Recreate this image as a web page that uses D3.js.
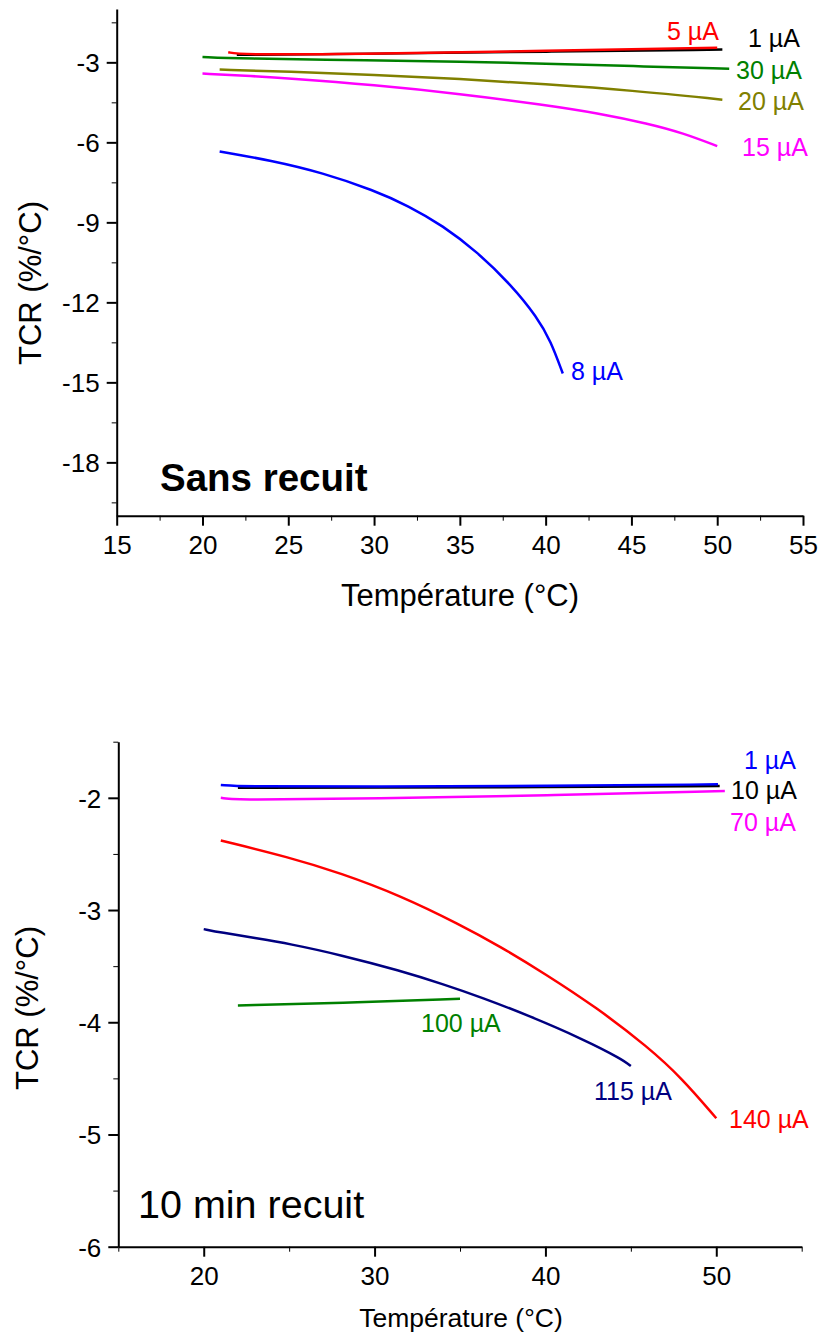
<!DOCTYPE html>
<html>
<head>
<meta charset="utf-8">
<script src="https://cdn.jsdelivr.net/npm/d3@7"></script>
<style>
  body { margin: 0; background: #fff; }
  svg text { font-family: "Liberation Sans", Arial, sans-serif; }
</style>
</head>
<body>
<div id="chart"></div>
<script>
// Sans recuit : [temperature, TCR]
const sr1uA  = [[22, -2.72], [30, -2.68], [40, -2.6], [50.3, -2.52]];
const sr5uA  = [[21.5, -2.62], [22.2, -2.72], [30, -2.68], [40, -2.57], [50, -2.45]];
const sr30uA = [[20, -2.8], [22, -2.86], [30, -2.92], [35, -2.97], [40, -3.05], [45, -3.14], [50.7, -3.24]];
const sr20uA = [[21, -3.27], [25, -3.35], [30, -3.47], [35, -3.62], [40, -3.82], [45, -4.05], [50.3, -4.4]];
const sr15uA = [[20, -3.42], [22.5, -3.5], [25, -3.6], [30, -3.85], [35, -4.18], [40, -4.6], [43, -4.9], [46, -5.3], [48, -5.65], [50, -6.14]];
const sr8uA  = [[21, -6.34], [24, -6.68], [27, -7.14], [30, -7.8], [32, -8.38], [34, -9.12], [36, -10.1], [38, -11.35], [39.5, -12.55], [40.3, -13.45], [41, -14.67]];

// 10 min recuit
const r1uA   = [[21, -1.885], [22.3, -1.9], [30, -1.9], [40, -1.895], [50.1, -1.88]];
const r10uA  = [[22, -1.91], [30, -1.91], [40, -1.905], [50.2, -1.895]];
const r70uA  = [[21, -2.0], [22, -2.02], [30, -2.005], [40, -1.98], [50.5, -1.94]];
const r140uA = [[21, -2.38], [25, -2.53], [28, -2.67], [31.5, -2.87], [35, -3.13], [37.3, -3.32], [40, -3.57], [43, -3.87], [46, -4.22], [48, -4.5], [50, -4.855]];
const r115uA = [[20, -3.17], [21, -3.2], [23, -3.25], [25, -3.3], [28, -3.4], [31.5, -3.54], [34, -3.66], [36.3, -3.78], [39, -3.94], [42.2, -4.15], [44.5, -4.33], [45, -4.39]];
const r100uA = [[22, -3.85], [28, -3.83], [35, -3.79]];

// ticks
const topXMajor = [15, 20, 25, 30, 35, 40, 45, 50, 55];
const topXMinor = [17.5, 22.5, 27.5, 32.5, 37.5, 42.5, 47.5, 52.5];
const topYMajor = [-18, -15, -12, -9, -6, -3];
const topYMinor = [-19.5, -16.5, -13.5, -10.5, -7.5, -4.5, -1.5];
const botXMajor = [20, 30, 40, 50];
const botXMinor = [15, 25, 35, 45, 55];
const botYMajor = [-6, -5, -4, -3, -2];
const botYMinor = [-5.5, -4.5, -3.5, -2.5, -1.5];

const width = 821, height = 1337;
const svg = d3.select('#chart').append('svg')
  .attr('width', width)
  .attr('height', height);

function drawPanel(p) {
  const x = d3.scaleLinear().domain(p.xDomain).range([p.left, p.right]);
  const y = d3.scaleLinear().domain(p.yDomain).range([p.bottom, p.top]);
  const g = svg.append('g');

  // minor ticks
  g.append('g')
    .attr('transform', `translate(0,${p.bottom})`)
    .call(d3.axisBottom(x).tickValues(p.xMinor).tickSize(5).tickFormat('').tickSizeOuter(0))
    .call(a => a.select('.domain').remove());
  g.append('g')
    .attr('transform', `translate(${p.left},0)`)
    .call(d3.axisLeft(y).tickValues(p.yMinor).tickSize(5).tickFormat('').tickSizeOuter(0))
    .call(a => a.select('.domain').remove());

  // major ticks + axis line
  const xa = g.append('g')
    .attr('transform', `translate(0,${p.bottom})`)
    .call(d3.axisBottom(x).tickValues(p.xMajor).tickSize(10).tickPadding(10).tickSizeOuter(0));
  const ya = g.append('g')
    .attr('transform', `translate(${p.left},0)`)
    .call(d3.axisLeft(y).tickValues(p.yMajor).tickSize(10).tickPadding(7).tickSizeOuter(0)
      .tickFormat(d => String(d).replace('\u2212', '-')));

  [xa, ya].forEach(a => {
    a.selectAll('path, line').attr('stroke', '#000').attr('stroke-width', 2);
    a.selectAll('text').attr('font-size', 26).attr('fill', '#000')
      .attr('font-family', '"Liberation Sans", Arial, sans-serif');
  });
  ya.selectAll('text').attr('dy', '0.36em');

  // smooth curves through the read-off points
  const line = d3.line()
    .x(d => x(d[0]))
    .y(d => y(d[1]))
    .curve(d3.curveBasis);

  p.series.forEach(s => {
    g.append('path')
      .datum(s.data)
      .attr('fill', 'none')
      .attr('stroke', s.color)
      .attr('stroke-width', 2.5)
      .attr('d', line);
  });

  p.labels.forEach(l => {
    g.append('text')
      .attr('x', l.x)
      .attr('y', l.y)
      .attr('font-size', 25)
      .attr('fill', l.color)
      .text(l.text);
  });

  g.append('text')
    .attr('x', p.xTitleX)
    .attr('y', p.xTitleY)
    .attr('text-anchor', 'middle')
    .attr('font-size', p.xTitleSize)
    .text('Température (°C)');

  g.append('text')
    .attr('transform', `translate(${p.yTitleX},${p.yTitleC}) rotate(-90)`)
    .attr('text-anchor', 'middle')
    .attr('font-size', 31)
    .text('TCR (%/°C)');

  g.append('text')
    .attr('x', p.note.x)
    .attr('y', p.note.y)
    .attr('font-size', p.note.size)
    .attr('font-weight', p.note.bold ? 'bold' : 'normal')
    .text(p.note.text);
}

drawPanel({
  xDomain: [15, 55], yDomain: [-20, -1],
  left: 116.7, right: 803, top: 9, bottom: 515.7,
  xMajor: topXMajor, xMinor: topXMinor, yMajor: topYMajor, yMinor: topYMinor,
  xTitleX: 460, xTitleY: 606, xTitleSize: 31, yTitleX: 41, yTitleC: 283,
  series: [
    { data: sr30uA, color: '#008000' },
    { data: sr20uA, color: '#808000' },
    { data: sr15uA, color: '#FF00FF' },
    { data: sr8uA, color: '#0000FF' },
    { data: sr1uA, color: '#000000' },
    { data: sr5uA, color: '#FF0000' }
  ],
  labels: [
    { text: '5 µA', x: 667, y: 40, color: '#FF0000' },
    { text: '1 µA', x: 748, y: 47, color: '#000000' },
    { text: '30 µA', x: 736, y: 79, color: '#008000' },
    { text: '20 µA', x: 738, y: 110, color: '#808000' },
    { text: '15 µA', x: 742, y: 156, color: '#FF00FF' },
    { text: '8 µA', x: 571, y: 380, color: '#0000FF' }
  ],
  note: { text: 'Sans recuit', x: 160, y: 491, bold: true, size: 38.5 }
});

drawPanel({
  xDomain: [15, 55], yDomain: [-6, -1.5],
  left: 118.3, right: 801.7, top: 741.7, bottom: 1246.7,
  xMajor: botXMajor, xMinor: botXMinor, yMajor: botYMajor, yMinor: botYMinor,
  xTitleX: 461, xTitleY: 1327, xTitleSize: 26.5, yTitleX: 38, yTitleC: 1008,
  series: [
    { data: r100uA, color: '#008000' },
    { data: r115uA, color: '#000080' },
    { data: r140uA, color: '#FF0000' },
    { data: r70uA, color: '#FF00FF' },
    { data: r10uA, color: '#000000' },
    { data: r1uA, color: '#0000FF' }
  ],
  labels: [
    { text: '1 µA', x: 744, y: 769, color: '#0000FF' },
    { text: '10 µA', x: 731, y: 799, color: '#000000' },
    { text: '70 µA', x: 730, y: 831, color: '#FF00FF' },
    { text: '100 µA', x: 421, y: 1032, color: '#008000' },
    { text: '115 µA', x: 594, y: 1100, color: '#000080' },
    { text: '140 µA', x: 729, y: 1128, color: '#FF0000' }
  ],
  note: { text: '10 min recuit', x: 138, y: 1218, bold: false, size: 39.5 }
});
</script>
</body>
</html>
